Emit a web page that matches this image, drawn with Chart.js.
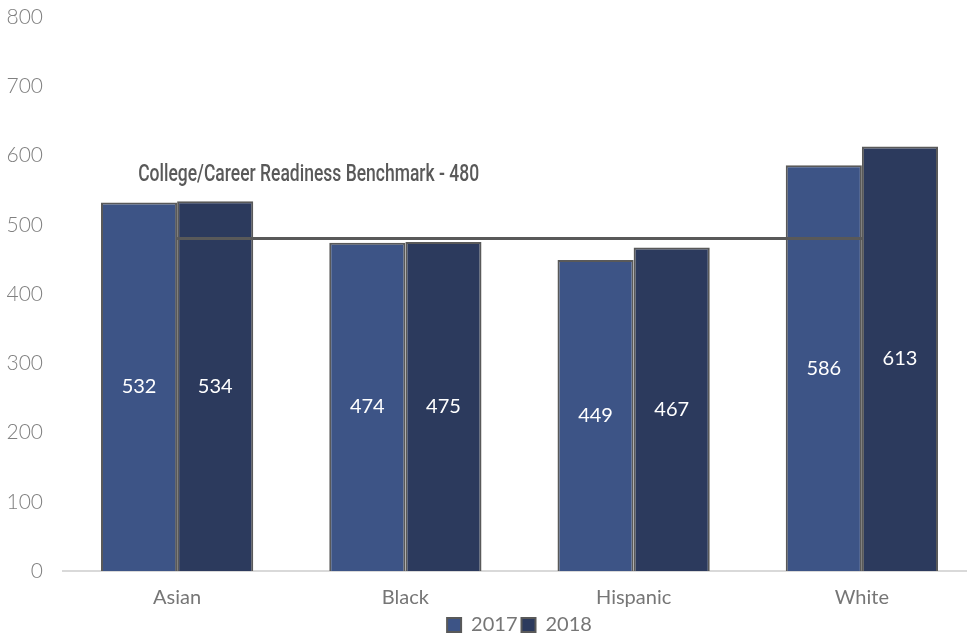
<!DOCTYPE html>
<html lang="en">

<head>
   <meta charset="UTF-8">
   <title>Scores by group</title>
   <style>
      html, body { margin: 0; padding: 0; overflow: hidden; background: #fff; }
      #wrap { width: 1000px; height: 645px; }
   </style>
</head>

<body>
   <div id="wrap">
      <canvas id="myChart"></canvas>
   </div>

   <script src="https://cdn.jsdelivr.net/npm/chart.js"></script>

   <script>
      const categories = ['Asian', 'Black', 'Hispanic', 'White'];
      const scores2017 = [532, 474, 449, 586];
      const scores2018 = [534, 475, 467, 613];
      const benchmark = 480;
      const benchmarkLabel = 'College/Career Readiness Benchmark - 480';
      const yMax = 800;
      const yStep = 100;

      // white numbers in the middle of each bar + benchmark caption
      const barLabels = {
         id: 'barLabels',
         afterDatasetsDraw(chart) {
            const ctx = chart.ctx;
            ctx.save();
            ctx.font = '20px Lato';
            ctx.fillStyle = '#ffffff';
            ctx.textAlign = 'center';
            ctx.textBaseline = 'middle';
            chart.data.datasets.forEach(function (ds, i) {
               if (ds.type === 'line') return;
               chart.getDatasetMeta(i).data.forEach(function (bar, j) {
                  const mid = (bar.y + bar.base) / 2;
                  ctx.fillText(ds.data[j], bar.x, mid);
               });
            });
            // caption sits above the left end of the benchmark line, condensed like the original
            const x = chart.scales.x.getPixelForValue(0) - 39;
            const y = chart.scales.y.getPixelForValue(benchmark) - 63;
            ctx.font = '500 23px Roboto';
            ctx.fillStyle = '#595959';
            ctx.textAlign = 'left';
            const w = ctx.measureText(benchmarkLabel).width;
            ctx.translate(x, y);
            ctx.scale(341 / w, 1);
            ctx.fillText(benchmarkLabel, 0, 0);
            ctx.restore();
         }
      };

      const ctx = document.getElementById('myChart');
      new Chart(ctx, {
         type: 'bar',
         data: {
            labels: categories,
            datasets: [{
               type: 'line',
               label: 'Benchmark',
               data: categories.map(function () { return benchmark; }),
               borderColor: '#595959',
               borderWidth: 3,
               pointRadius: 0,
               fill: false,
               order: 0
            }, {
               label: '2017',
               data: scores2017,
               backgroundColor: '#3d5486',
               borderColor: '#595959',
               borderWidth: 2,
               order: 1
            }, {
               label: '2018',
               data: scores2018,
               backgroundColor: '#2c3a5d',
               borderColor: '#595959',
               borderWidth: 2,
               order: 1
            }]
         },
         options: {
            responsive: true,
            maintainAspectRatio: false,
            animation: false,
            layout: {
               padding: { left: 0, right: 24, top: 17, bottom: 0 }
            },
            datasets: {
               bar: { categoryPercentage: 0.667, barPercentage: 1.0 }
            },
            plugins: {
               tooltip: { enabled: false },
               legend: {
                  position: 'bottom',
                  fullSize: false,
                  labels: {
                     filter: function (item) { return item.text !== 'Benchmark'; },
                     color: '#767676',
                     font: { family: 'Lato', size: 20 },
                     boxWidth: 14,
                     boxHeight: 14,
                     padding: 4
                  }
               }
            },
            scales: {
               x: {
                  grid: { display: false, drawTicks: false },
                  border: { color: '#d9d9d9', width: 2 },
                  ticks: {
                     color: '#767676',
                     font: { family: 'Lato', size: 20 },
                     padding: 15
                  },
                  afterFit: function (scale) { scale.height = 40; }
               },
               y: {
                  min: 0,
                  max: yMax,
                  grid: { display: false, drawTicks: false },
                  border: { display: false },
                  ticks: {
                     stepSize: yStep,
                     color: '#808080',
                     font: { family: 'Lato', size: 21, weight: 300 },
                     padding: 20
                  },
                  afterFit: function (scale) {
                     scale.width = 63;
                     scale.paddingTop = 0;
                     scale.paddingBottom = 0;
                  }
               }
            }
         },
         plugins: [barLabels]
      });
   </script>
</body>

</html>
